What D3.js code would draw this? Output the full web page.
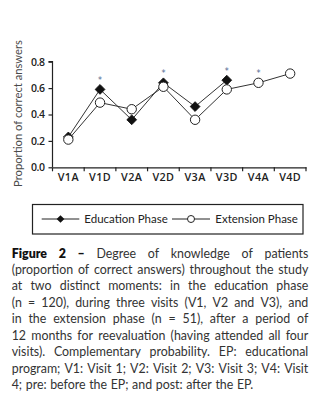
<!DOCTYPE html>
<html>
<head>
<meta charset="utf-8">
<script src="https://cdn.jsdelivr.net/npm/d3@7"></script>
<style>
  html, body { margin: 0; padding: 0; background: #fff; }
  svg { display: block; }
</style>
</head>
<body>
<svg id="chart" width="332" height="415"></svg>
<script>
const categories = ["V1A", "V1D", "V2A", "V2D", "V3A", "V3D", "V4A", "V4D"];
const education = [0.23, 0.59, 0.36, 0.64, 0.46, 0.66, null, null];
const extension = [0.21, 0.49, 0.44, 0.61, 0.36, 0.59, 0.64, 0.71];
const significant = ["V1D", "V2D", "V3D", "V4A"];
const yTicks = [0, 0.2, 0.4, 0.6, 0.8];
const seriesNames = ["Education Phase", "Extension Phase"];
const yLabel = "Proportion of correct answers";
const captionLines = [
  "Figure 2 – Degree of knowledge of patients",
  "(proportion of correct answers) throughout the study",
  "at two distinct moments: in the education phase",
  "(n = 120), during three visits (V1, V2 and V3), and",
  "in the extension phase (n = 51), after a period of",
  "12 months for reevaluation (having attended all four",
  "visits). Complementary probability. EP: educational",
  "program; V1: Visit 1; V2: Visit 2; V3: Visit 3; V4: Visit",
  "4; pre: before the EP; and post: after the EP."
];
const boldWords = ["Figure", "2", "–"];

const svg = d3.select("#chart");
const tickFont = "'Open Sans', sans-serif";
const textFont = "Lato, 'Open Sans', sans-serif";

const x = d3.scaleBand().domain(categories).range([52.5, 306]).padding(0);
const y = d3.scaleLinear().domain([0, 0.8]).range([167.3, 61.7]);

// axes
const yAxis = svg.append("g").attr("transform", `translate(${x.range()[0]},0)`)
  .call(d3.axisLeft(y).tickValues(yTicks).tickFormat(d3.format(".1f")).tickSize(4).tickPadding(4));
const xAxis = svg.append("g").attr("transform", `translate(0,${y(0)})`)
  .call(d3.axisBottom(x).tickSize(0).tickPadding(6));
const bounds = categories.map(c => x(c) + x.bandwidth()).concat([x(categories[0])]);
xAxis.selectAll("line.bound").data(bounds).enter().append("line")
  .attr("class", "bound").attr("x1", d => d).attr("x2", d => d)
  .attr("y1", 0).attr("y2", 4).attr("stroke", "#222").attr("stroke-width", 1.2);

[yAxis, xAxis].forEach(g => {
  g.select(".domain").attr("stroke", "#222").attr("stroke-width", 1.2);
  g.selectAll(".tick line").attr("stroke", "#222").attr("stroke-width", 1.2);
  g.selectAll(".tick text").attr("font-family", tickFont)
    .attr("font-weight", 600).attr("fill", "#222");
});
yAxis.selectAll(".tick text").attr("font-size", 10.5).attr("letter-spacing", -0.5);
xAxis.selectAll(".tick text").attr("font-size", 10.8).attr("letter-spacing", 0.4);
yAxis.select(".domain").attr("d", `M-4,${y(0.8)}H0V${y(0)}`);

// y label: sized to span y 40..187
const yl = svg.append("text")
  .attr("text-anchor", "middle")
  .attr("font-family", textFont).attr("font-size", 11).attr("fill", "#4a4a4a")
  .text(yLabel);
const natural = yl.node().getComputedTextLength();
yl.attr("font-size", 11 * 147 / natural)
  .attr("transform", `translate(22,${(40 + 187) / 2}) rotate(-90)`);

const cx = c => x(c) + x.bandwidth() / 2;

const eduPts = categories.map((c, i) => ({c, v: education[i]})).filter(d => d.v != null);
const extPts = categories.map((c, i) => ({c, v: extension[i]})).filter(d => d.v != null);
const line = d3.line().x(d => cx(d.c)).y(d => y(d.v));

svg.append("path").attr("d", line(eduPts)).attr("fill", "none").attr("stroke", "#333").attr("stroke-width", 1);
svg.append("path").attr("d", line(extPts)).attr("fill", "none").attr("stroke", "#333").attr("stroke-width", 1);

svg.selectAll("path.edu").data(eduPts).enter().append("path")
  .attr("class", "edu")
  .attr("d", d3.symbol().type(d3.symbolSquare).size(48)())
  .attr("transform", d => `translate(${cx(d.c)},${y(d.v)}) rotate(45)`)
  .attr("fill", "#111").attr("stroke", "#111").attr("stroke-width", 0.8);

svg.selectAll("circle.ext").data(extPts).enter().append("circle")
  .attr("class", "ext").attr("cx", d => cx(d.c)).attr("cy", d => y(d.v)).attr("r", 4.7)
  .attr("fill", "#fff").attr("stroke", "#222").attr("stroke-width", 1);

// significance asterisks
svg.selectAll("text.sig").data(significant).enter().append("text")
  .attr("class", "sig")
  .attr("x", c => cx(c))
  .attr("y", c => {
    const i = categories.indexOf(c);
    const m = d3.max([education[i], extension[i]].filter(v => v != null));
    return y(m) - 6.5;
  })
  .attr("text-anchor", "middle").attr("font-family", "DejaVu Sans").attr("font-size", 8)
  .attr("fill", "#4f6590").text("*");

// legend
const lg = svg.append("g");
lg.append("rect").attr("x", 32.5).attr("y", 204.5).attr("width", 270.5).attr("height", 29.5)
  .attr("fill", "none").attr("stroke", "#222").attr("stroke-width", 1.2);
const ly = 219;
const legendItems = [
  {name: seriesNames[0], x1: 41.7, x2: 79.3, tx: 84.3, type: "diamond"},
  {name: seriesNames[1], x1: 172, x2: 210, tx: 215.3, type: "circle"}
];
legendItems.forEach(it => {
  lg.append("line").attr("x1", it.x1).attr("x2", it.x2).attr("y1", ly).attr("y2", ly)
    .attr("stroke", "#222").attr("stroke-width", 1);
  const mx = (it.x1 + it.x2) / 2;
  if (it.type === "diamond") {
    lg.append("path").attr("d", d3.symbol().type(d3.symbolSquare).size(30)())
      .attr("transform", `translate(${mx},${ly}) rotate(45)`).attr("fill", "#111");
  } else {
    lg.append("circle").attr("cx", mx).attr("cy", ly).attr("r", 3.5)
      .attr("fill", "#fff").attr("stroke", "#222").attr("stroke-width", 1);
  }
  lg.append("text").attr("x", it.tx).attr("y", ly + 4).attr("font-family", textFont)
    .attr("font-size", 11.5).attr("fill", "#222").text(it.name);
});

// caption, justified
const left = 11.7, right = 308.3, lineGap = 16.45, firstBase = 257.5;
const cap = svg.append("g").attr("font-family", textFont).attr("font-size", 12.4).attr("fill", "#333");
captionLines.forEach((ln, li) => {
  const words = ln.split(" ");
  const base = firstBase + li * lineGap;
  const nodes = words.map((w, wi) => {
    const bold = li === 0 && wi < 3 && boldWords.includes(w);
    return cap.append("text").attr("y", base).text(w)
      .attr("font-weight", bold ? 800 : 400).attr("fill", bold ? "#111" : "#333");
  });
  const widths = nodes.map(n => n.node().getComputedTextLength());
  const total = d3.sum(widths);
  const last = li === captionLines.length - 1;
  const spaceW = 3.6;
  const gap = last ? spaceW : (right - left - total) / (words.length - 1);
  let cur = left;
  nodes.forEach((n, i) => { n.attr("x", cur); cur += widths[i] + gap; });
});
</script>
</body>
</html>
